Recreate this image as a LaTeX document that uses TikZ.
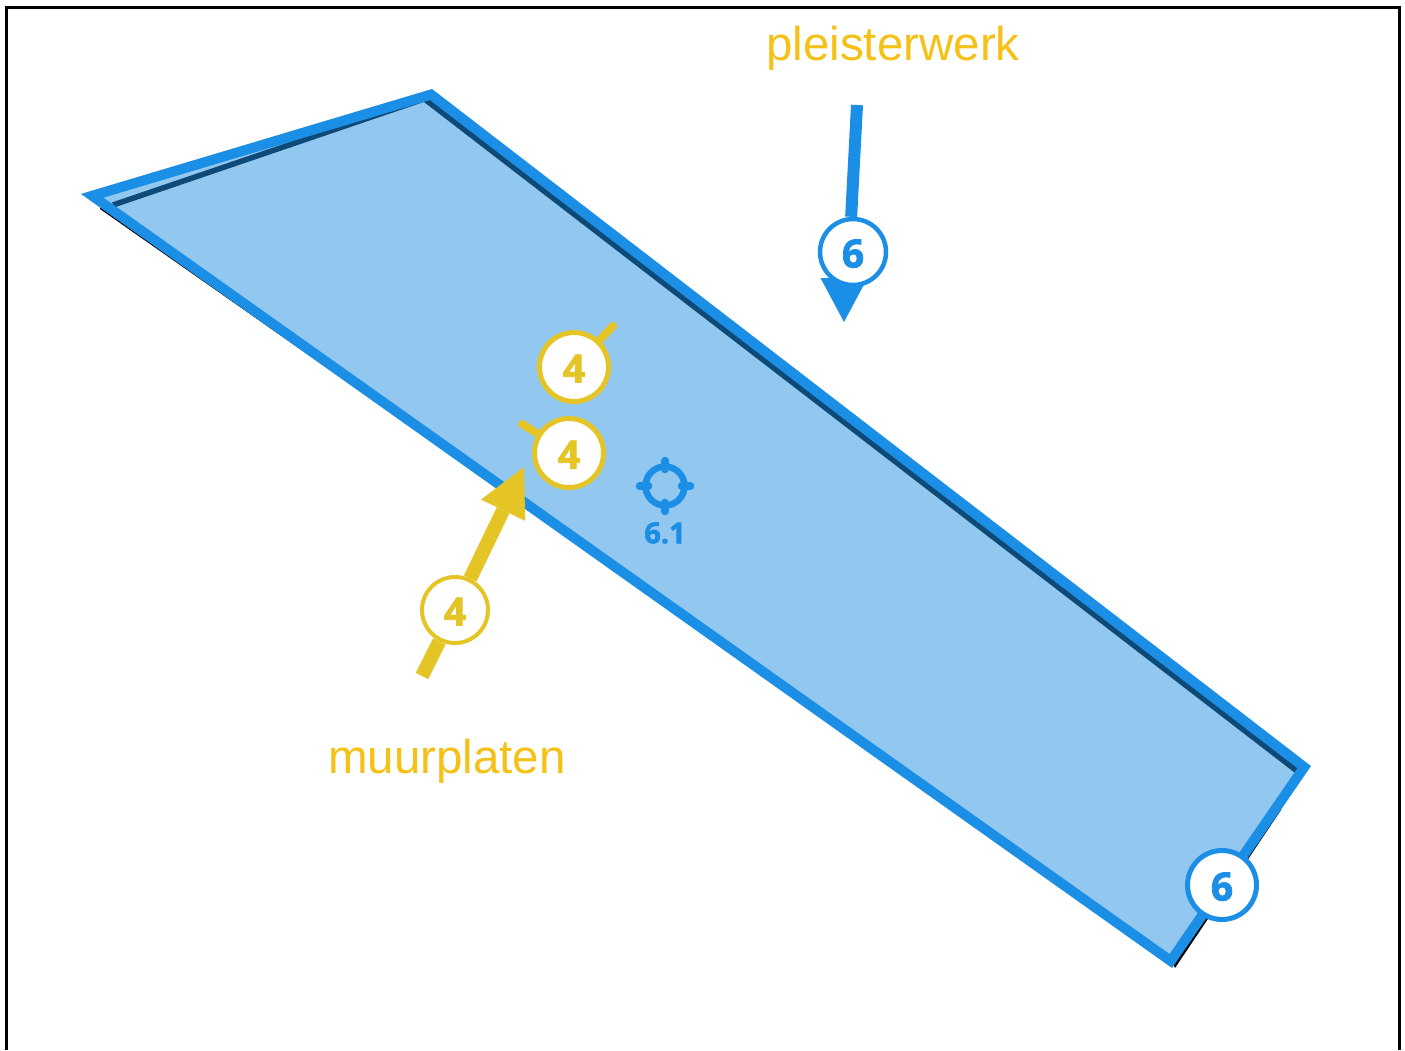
\documentclass[tikz,border=0pt]{standalone}
\usepackage{fontspec}
\setmainfont{Liberation Sans}
\newfontfamily\digitfont[BoldFeatures={FakeBold=2}]{Open Sans}
\usepackage{xcolor}
\usetikzlibrary{arrows.meta,backgrounds}
\definecolor{wallblue}{HTML}{1B8FE6}
\definecolor{wallfill}{HTML}{92C8F0}
\definecolor{walldark}{HTML}{0E4A78}
\definecolor{plateyellow}{HTML}{E5C425}
\definecolor{labelyellow}{HTML}{F5C116}
\tikzset{
  badge/.style={circle,draw=#1,text=#1,fill=white,line width=5pt,minimum size=69pt,inner sep=0pt,
    text height=31pt,text depth=0pt,font=\digitfont\bfseries\fontsize{39}{39}\selectfont},
  smallbadge/.style={badge=#1,line width=4pt,minimum size=66pt},
  layername/.style={text=labelyellow,anchor=base,font=\fontsize{47.5}{50}\selectfont},
  tick/.style={draw=plateyellow,line width=8pt,line cap=round}
}

\begin{document}
\begin{tikzpicture}[x=1pt,y=-1pt]
  \useasboundingbox (0,0) rectangle (1405,1050);
  \draw[line width=3pt,miter limit=4] (6.5,1050) -- (6.5,7.5) -- (1399.5,7.5) -- (1399.5,1050);

  \node (pleister) [layername] at (893,60) {pleisterwerk};
  \node (muur) [layername] at (447,773) {muurplaten};

  \coordinate (pleistertail) at (857,105);
  \coordinate (pleistertip) at (844,322);
  \coordinate (muurtail) at (422,676);
  \coordinate (muurtip) at (524,467);
  \coordinate (ticktop) at (613,326);
  \coordinate (tickleft) at (522,424);

  \node (six) [badge=wallblue,minimum size=66pt,line width=4.5pt] at (853,252) {6};
  \node (sixcorner) [badge=wallblue] at (1222,885) {6};
  \node (fourtop) [badge=plateyellow] at (574,367) {4};
  \node (fourleft) [badge=plateyellow] at (569,453) {4};
  \node (fourlow) [smallbadge=plateyellow] at (455,610) {4};

  \node (target) [circle,draw=wallblue,line width=6.5pt,minimum size=39pt,inner sep=0pt] at (665,486) {};
  \node (targetlabel) [text=wallblue,font=\digitfont\bfseries\fontsize{29}{29}\selectfont] at (665,533) {6.1};
  \foreach \a in {0,90,180,270}
    \draw[wallblue,line width=7.5pt,line cap=round] (target.center) ++(\a:16.5) -- ++(\a:9);

  \begin{scope}[on background layer]
    % black edge just showing under the plane
    \fill[black] (100,209) -- (400,419) -- (100,200) -- cycle;
    \fill[black] (1170,958) -- (1175,968) -- (1281,810) -- (1270,808) -- cycle;
    \fill[wallfill] (92.2,195.8) -- (431,94.5) -- (1304.2,767.1) -- (1170.8,961) -- cycle;
    \draw[walldark,line width=5.5pt] (113,205) -- (424.4,98.9) -- (1303.4,775.9);
    \draw[wallblue,line width=10pt,line join=miter,miter limit=20]
      (92.2,195.8) -- (431,94.5) -- (1304.2,767.1) -- (1170.8,961) -- cycle;
    \draw[wallblue,line width=11pt,-{Triangle[length=44pt,width=47pt,line width=0pt,fill=wallblue]}]
      ([xshift=-9pt]six.center) -- (pleistertip);
  \end{scope}

  \draw[wallblue,line width=12pt] (pleistertail) -- (six.93);
  \draw[plateyellow,line width=14pt] (muurtail) -- (fourlow);
  \draw[plateyellow,line width=14pt,-{Triangle[length=48pt,width=49pt,line width=0pt,fill=plateyellow]}]
    (fourlow) -- (muurtip);
  \draw[tick] (fourtop) -- (ticktop);
  \draw[tick] (fourleft) -- (tickleft);
\end{tikzpicture}
\end{document}
